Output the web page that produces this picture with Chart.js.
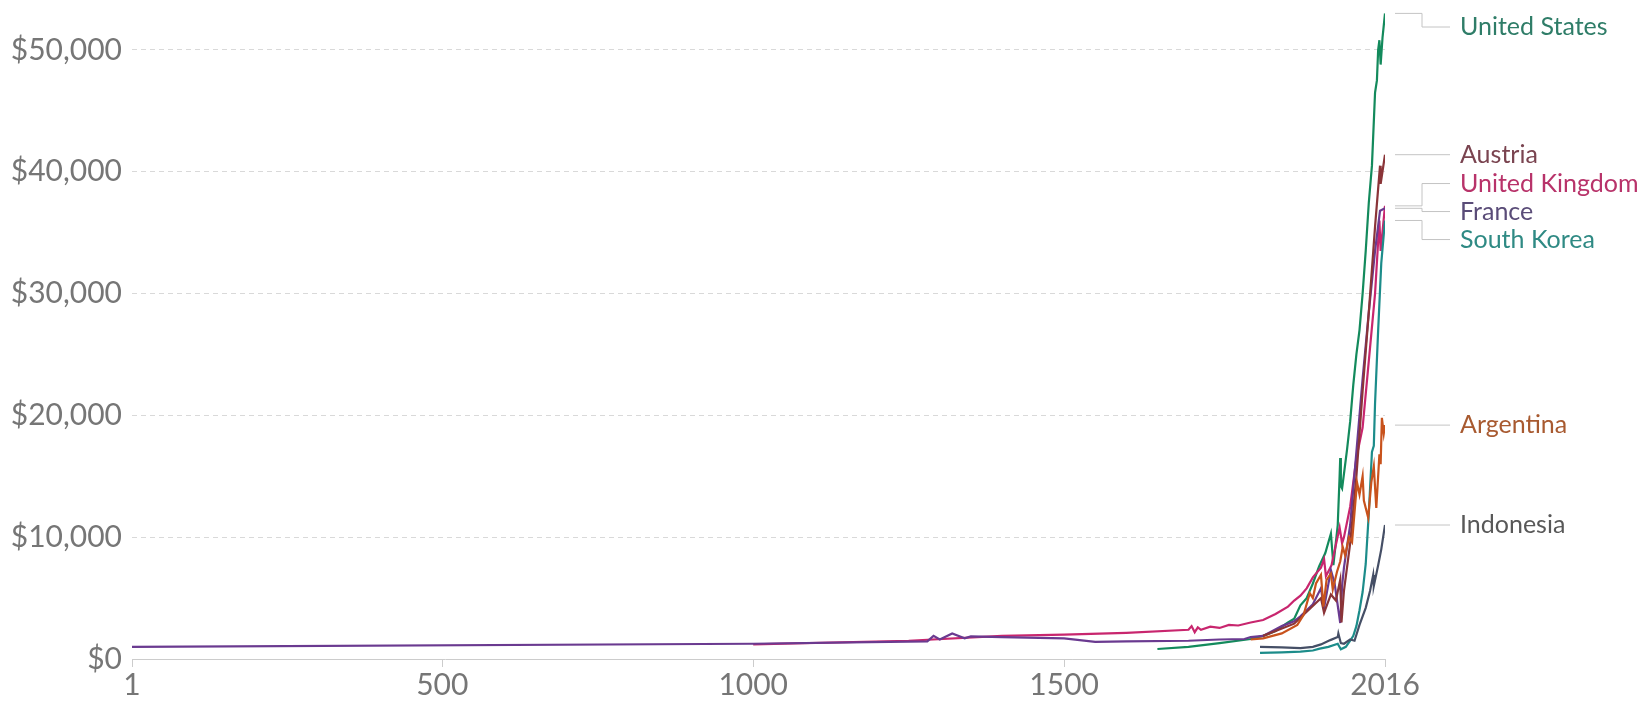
<!DOCTYPE html>
<html>
<head>
<meta charset="utf-8">
<script src="https://cdn.jsdelivr.net/npm/chart.js@4.4.1/dist/chart.umd.min.js"></script>
<style>
    body { margin: 0; background: #ffffff; }
    canvas { display: block; }
</style>
</head>
<body>
<canvas id="gdpChart" width="1645" height="704"></canvas>
<script>
// GDP per capita
const xTickYears = [1, 500, 1000, 1500, 2016];
const yTickValues = [0, 10000, 20000, 30000, 40000, 50000];

const usYears = [1650, 1700, 1750, 1800, 1820, 1840, 1860, 1870, 1880, 1890, 1900, 1910, 1920, 1929, 1933, 1940, 1943, 1944, 1945, 1947, 1950, 1955, 1960, 1965, 1970, 1975, 1980, 1985, 1990, 1995, 2000, 2003, 2005, 2007, 2009, 2012, 2016];
const usGdp = [820, 1000, 1300, 1640, 1900, 2300, 3000, 3300, 4400, 5000, 6200, 7600, 8700, 10300, 7700, 11000, 15000, 16500, 14200, 14000, 15200, 17200, 19500, 22500, 25000, 27000, 30000, 33500, 37500, 40500, 46500, 47500, 50000, 50800, 48800, 51000, 53000];

const austriaYears = [1820, 1870, 1913, 1918, 1929, 1937, 1944, 1946, 1950, 1960, 1970, 1980, 1990, 2000, 2008, 2009, 2016];
const austriaGdp = [1900, 2900, 5000, 3800, 5300, 4800, 6500, 3000, 5600, 9500, 15000, 22000, 28500, 35500, 40500, 39000, 41400];

const ukYears = [1000, 1250, 1400, 1500, 1600, 1700, 1705, 1710, 1715, 1720, 1735, 1750, 1765, 1780, 1800, 1820, 1840, 1860, 1870, 1880, 1890, 1900, 1913, 1918, 1921, 1930, 1943, 1947, 1950, 1960, 1970, 1980, 1990, 2000, 2007, 2009, 2016];
const ukGdp = [1200, 1500, 1900, 2000, 2150, 2400, 2700, 2200, 2600, 2400, 2650, 2550, 2800, 2750, 3000, 3200, 3700, 4300, 4800, 5200, 5800, 6700, 7500, 8200, 6800, 7700, 10800, 9500, 10000, 12500, 16500, 19000, 24500, 30000, 36000, 33500, 37200];

const franceYears = [1, 1000, 1280, 1290, 1300, 1320, 1340, 1350, 1400, 1500, 1550, 1600, 1700, 1750, 1790, 1800, 1820, 1850, 1870, 1880, 1900, 1913, 1918, 1929, 1935, 1944, 1947, 1950, 1960, 1970, 1980, 1990, 2000, 2008, 2016];
const franceGdp = [1000, 1250, 1450, 1900, 1600, 2100, 1700, 1850, 1800, 1700, 1400, 1450, 1500, 1600, 1640, 1800, 1900, 2700, 3100, 3500, 4500, 5800, 4200, 7300, 6200, 2950, 6000, 7500, 11000, 17000, 23000, 28500, 33500, 36800, 37000];

const koreaYears = [1815, 1850, 1880, 1900, 1911, 1925, 1940, 1945, 1953, 1960, 1965, 1970, 1975, 1980, 1985, 1990, 1995, 1998, 2000, 2005, 2010, 2016];
const koreaGdp = [500, 550, 600, 700, 850, 1000, 1250, 800, 1000, 1500, 1900, 2700, 4000, 5500, 7800, 12000, 17000, 17500, 21000, 27000, 32500, 36000];

const argentinaYears = [1800, 1820, 1850, 1875, 1885, 1895, 1900, 1905, 1913, 1917, 1922, 1929, 1932, 1939, 1944, 1948, 1952, 1958, 1963, 1971, 1975, 1980, 1982, 1989, 1994, 1998, 2002, 2007, 2009, 2011, 2014, 2016];
const argentinaGdp = [1600, 1700, 2100, 2800, 3600, 5400, 5000, 6200, 6900, 4300, 6500, 7000, 5700, 7200, 8000, 9200, 8500, 10000, 9600, 14500, 13500, 15000, 13000, 11600, 14500, 15800, 12400, 16800, 16000, 19800, 18500, 19200];

const indonesiaYears = [1815, 1850, 1880, 1900, 1913, 1928, 1940, 1941, 1945, 1950, 1960, 1967, 1975, 1985, 1992, 1997, 1998, 2005, 2010, 2016];
const indonesiaGdp = [1000, 950, 900, 1000, 1200, 1550, 1800, 2100, 1300, 1250, 1600, 1500, 2800, 4200, 5600, 6900, 6000, 7700, 9000, 11000];

function toPoints(years, values) {
    return years.map((year, i) => ({ x: year, y: values[i] }));
}

function makeDataset(label, years, values, lineColor, labelColor) {
    return {
        label: label,
        data: toPoints(years, values),
        borderColor: lineColor,
        labelColor: labelColor,
        borderWidth: 2.2,
        pointRadius: 0,
        tension: 0,
        fill: false
    };
}

// draws the country names on the right with their little connector lines
const endLabels = {
    id: 'endLabels',
    afterDatasetsDraw(chart) {
        const ctx = chart.ctx;
        const xScale = chart.scales.x;
        const yScale = chart.scales.y;
        const gap = 28;
        const minY = 27;

        const items = chart.data.datasets.map(ds => {
            const last = ds.data[ds.data.length - 1];
            return {
                name: ds.label,
                color: ds.labelColor,
                lineX: xScale.getPixelForValue(last.x),
                lineY: yScale.getPixelForValue(last.y)
            };
        });
        items.sort((a, b) => a.lineY - b.lineY);

        let groups = items.map(item => ({ items: [item], top: Math.max(item.lineY, minY) }));
        let merged = true;
        while (merged) {
            merged = false;
            for (let i = 0; i < groups.length - 1; i++) {
                const a = groups[i];
                const b = groups[i + 1];
                if (a.top + a.items.length * gap > b.top) {
                    const all = a.items.concat(b.items);
                    const mean = all.reduce((s, it) => s + it.lineY, 0) / all.length;
                    const top = Math.max(mean - (all.length - 1) * gap / 2, minY);
                    groups.splice(i, 2, { items: all, top: top });
                    merged = true;
                    break;
                }
            }
        }

        const textX = 1460;
        const elbowX = 1422;

        ctx.save();
        groups.forEach(group => {
            group.items.forEach((item, i) => {
                const labelY = group.top + i * gap;
                ctx.strokeStyle = '#c4c4c4';
                ctx.lineWidth = 1;
                ctx.beginPath();
                ctx.moveTo(item.lineX + 10, item.lineY);
                ctx.lineTo(elbowX, item.lineY);
                ctx.lineTo(elbowX, labelY);
                ctx.lineTo(textX - 10, labelY);
                ctx.stroke();

                ctx.fillStyle = item.color;
                ctx.font = '25px Lato';
                ctx.textAlign = 'left';
                ctx.textBaseline = 'middle';
                ctx.fillText(item.name, textX, labelY);
            });
        });
        ctx.restore();
    }
};

new Chart('gdpChart', {
    type: 'line',
    data: {
        datasets: [
            makeDataset('Indonesia', indonesiaYears, indonesiaGdp, '#454f66', '#585858'),
            makeDataset('Argentina', argentinaYears, argentinaGdp, '#c8521c', '#a85a30'),
            makeDataset('South Korea', koreaYears, koreaGdp, '#1c8c8a', '#2f8a84'),
            makeDataset('Austria', austriaYears, austriaGdp, '#8a3438', '#7a4450'),
            makeDataset('France', franceYears, franceGdp, '#6a3a90', '#5a4c78'),
            makeDataset('United Kingdom', ukYears, ukGdp, '#c8266e', '#b8336a'),
            makeDataset('United States', usYears, usGdp, '#138a5c', '#2f7d68')
        ]
    },
    options: {
        responsive: false,
        animation: false,
        layout: {
            padding: { left: 0, right: 260, top: 0, bottom: 0 }
        },
        plugins: {
            legend: { display: false },
            tooltip: { enabled: false }
        },
        scales: {
            x: {
                type: 'linear',
                min: 1,
                max: 2016,
                afterBuildTicks: axis => {
                    axis.ticks = xTickYears.map(v => ({ value: v }));
                },
                afterFit: axis => {
                    axis.height = 45;
                },
                grid: {
                    drawOnChartArea: false,
                    drawTicks: true,
                    tickLength: 8,
                    color: '#cccccc'
                },
                border: { color: '#cccccc', width: 1 },
                ticks: {
                    autoSkip: false,
                    maxRotation: 0,
                    padding: 0,
                    color: '#767676',
                    font: { family: 'Lato', size: 30 },
                    callback: value => String(value)
                }
            },
            y: {
                min: 0,
                max: 54100,
                afterBuildTicks: axis => {
                    axis.ticks = yTickValues.map(v => ({ value: v }));
                },
                afterFit: axis => {
                    axis.width = 132;
                    axis.paddingTop = 0;
                    axis.paddingBottom = 0;
                },
                grid: {
                    drawTicks: false,
                    color: '#d9d9d9',
                    lineWidth: 1
                },
                border: { display: false, dash: [5, 4] },
                ticks: {
                    padding: 10,
                    color: '#767676',
                    font: { family: 'Lato', size: 30 },
                    callback: value => '$' + value.toLocaleString('en-US')
                }
            }
        }
    },
    plugins: [endLabels]
});
</script>
</body>
</html>
